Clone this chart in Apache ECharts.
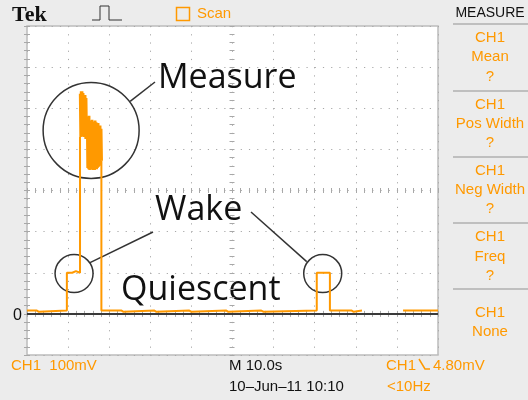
<!DOCTYPE html>
<html>
<head>
<meta charset="utf-8">
<script src="https://cdn.jsdelivr.net/npm/echarts@6/dist/echarts.min.js"></script>
<style>
html,body{margin:0;padding:0;background:#ececec;}
#chart{width:528px;height:400px;}
</style>
</head>
<body>
<div id="chart"></div>
<script>
// scope trace, time in s (10 s/div), CH1 in mV (100 mV/div)
var traceTime = [0, 2.4, 2.4, 2.9, 2.9, 9.7, 9.7, 11.0, 11.0, 11.9, 11.9, 12.9, 12.9, 15.0, 18.1, 18.1,
  23.0, 23.0, 23.5, 23.5, 31.0, 31.0, 31.5, 31.5, 39.5, 39.5, 40.0, 40.0, 48.5, 48.5, 49.0, 49.0,
  57.0, 57.0, 57.6, 57.6, 70.5, 70.5, 73.7, 73.7, 79.0, 79.0, 79.5, 79.5, 81.5, 86.0, 91.5, 100];
var traceMv = [8, 8, 5, 5, 8, 8, 100, 100, 104, 104, 100, 100, 430, null, 372, 8,
  8, 5, 5, 8, 8, 5, 5, 8, 8, 5, 5, 8, 8, 5, 5, 8,
  8, 5, 5, 8, 8, 100, 100, 8, 8, 5, 5, 8, 8, null, 8, 8];

// the burst during "Measure": upper and lower envelope
var spikeTime = [12.93, 13.17, 13.41, 13.66, 13.90, 14.15, 14.39, 14.63, 14.88, 15.12, 15.37,
  15.61, 15.85, 16.10, 16.34, 16.59, 16.83, 17.07, 17.32, 17.56, 17.80, 18.05];
var spikeHigh = [535, 541, 541, 537, 530, 532, 525, 480, 478, 482, 470,
  465, 472, 468, 463, 470, 466, 460, 464, 455, 458, 450];
var spikeLow = [430, 432, 435, 430, 440, 425, 436, 355, 352, 350, 355,
  352, 350, 354, 350, 356, 352, 355, 358, 360, 365, 372];

var ORANGE = '#ff9900';
var GRID_C = '#a8a8a8';

var traceData = traceTime.map(function (t, i) { return [t, traceMv[i]]; });
var spikeData = [];
spikeTime.forEach(function (t, i) {
  spikeData.push([t, spikeHigh[i]]);
  spikeData.push([t + 0.12, spikeLow[i]]);
});

var chart = echarts.init(document.getElementById('chart'));

var tick = {show: true, inside: true, length: 3, lineStyle: {color: GRID_C}};
var minor = {show: true, splitNumber: 5, length: 3, lineStyle: {color: GRID_C}};
var tickC = {show: true, inside: true, length: 5, lineStyle: {color: GRID_C}};
var minorC = {show: true, splitNumber: 5, length: 5, lineStyle: {color: GRID_C}};

function xAx(extra) {
  return Object.assign({type: 'value', min: 0, max: 100, interval: 10,
    axisLine: {show: false}, axisLabel: {show: false}, splitLine: {show: false}}, extra);
}
function yAx(extra) {
  return Object.assign({type: 'value', min: -100, max: 700, interval: 100,
    axisLine: {show: false}, axisLabel: {show: false}, splitLine: {show: false}}, extra);
}

var option = {
  animation: false,
  backgroundColor: '#ececec',
  grid: {show: true, left: 27, top: 26, width: 411, height: 329,
    backgroundColor: '#ffffff', borderColor: '#bcbcbc', borderWidth: 1.5},
  xAxis: [
    xAx({position: 'bottom', axisTick: tick, minorTick: minor,
      splitLine: {show: true, lineStyle: {color: GRID_C, width: 1, type: [1.2, 7.02]}}}),
    xAx({position: 'top', axisTick: tick, minorTick: minor}),
    xAx({position: 'bottom', offset: -162, axisTick: tickC, minorTick: minorC})
  ],
  yAxis: [
    yAx({position: 'left', axisTick: tick, minorTick: minor,
      splitLine: {show: true, lineStyle: {color: GRID_C, width: 1, type: [1.2, 7.02]}}}),
    yAx({position: 'right', axisTick: tick, minorTick: minor}),
    yAx({position: 'left', offset: -202.5, axisTick: tickC, minorTick: minorC})
  ],
  series: [
    {
      type: 'line', data: traceData, showSymbol: false, connectNulls: false,
      lineStyle: {color: ORANGE, width: 2}, z: 3,
      markLine: {silent: true, symbol: 'none', label: {show: false},
        lineStyle: {color: '#3a3a3a', width: 2, type: 'solid'},
        data: [{yAxis: 0}]}
    },
    {
      type: 'line', data: spikeData, showSymbol: false,
      lineStyle: {color: ORANGE, width: 2.6}, z: 3
    }
  ]
};
chart.setOption(option);

function px(t, v) { return chart.convertToPixel({xAxisIndex: 0, yAxisIndex: 0}, [t, v]); }

function txt(s, x, y, o) {
  return {type: 'text', silent: true, style: Object.assign({text: s, x: x, y: y,
    fill: ORANGE, fontSize: 15, fontFamily: 'Liberation Sans',
    textAlign: 'left', textVerticalAlign: 'middle'}, o || {})};
}
function ln(x1, y1, x2, y2, c, w) {
  return {type: 'line', silent: true, shape: {x1: x1, y1: y1, x2: x2, y2: y2},
    style: {stroke: c, lineWidth: w}};
}
function ring(c, r) {
  return {type: 'circle', silent: true, shape: {cx: c[0], cy: c[1], r: r},
    style: {fill: null, stroke: '#333', lineWidth: 1.5}};
}

var cMeasure = px(15.6, 446);
var cWake1 = px(11.45, 98);
var cWake2 = px(71.95, 98);

var g = [];
// annotations
g.push(ring(cMeasure, 48), ring(cWake1, 19), ring(cWake2, 19));
g.push(ln(cMeasure[0] + 39, cMeasure[1] - 29, 155, 82, '#333', 1.5));
g.push(ln(cWake1[0] + 16, cWake1[1] - 11, 153, 232, '#333', 1.5));
g.push(ln(cWake2[0] - 16, cWake2[1] - 12, 251, 212, '#333', 1.5));
var big = {fill: '#111', fontSize: 34, fontFamily: 'Open Sans'};
g.push(txt('Measure', 158, 78, big));
g.push(txt('Wake', 155, 210, big));
g.push(txt('Quiescent', 121, 290, big));

// header
g.push(txt('Tek', 12, 15, {fill: '#111', fontSize: 22, fontWeight: 'bold', fontFamily: 'Liberation Serif'}));
g.push({type: 'polyline', silent: true,
  shape: {points: [[92, 20], [100, 20], [100, 6], [109, 6], [109, 20], [122, 20]]},
  style: {stroke: '#333', lineWidth: 1, fill: null}});
g.push({type: 'rect', silent: true, shape: {x: 176.5, y: 7.5, width: 13, height: 13},
  style: {fill: null, stroke: ORANGE, lineWidth: 1.5}});
g.push(txt('Scan', 197, 14));

// measure menu
g.push(txt('MEASURE', 490, 13, {fill: '#111', fontSize: 14, textAlign: 'center'}));
[24, 91, 157, 223, 289].forEach(function (y) { g.push(ln(453, y, 528, y, '#b0b0b0', 1.5)); });
var menu = [
  ['CH1', 38], ['Mean', 57], ['?', 77],
  ['CH1', 105], ['Pos Width', 124], ['?', 143],
  ['CH1', 171], ['Neg Width', 190], ['?', 209],
  ['CH1', 237], ['Freq', 257], ['?', 276],
  ['CH1', 313], ['None', 332]
];
menu.forEach(function (m) { g.push(txt(m[0], 490, m[1], {textAlign: 'center'})); });

// ground marker
g.push(txt('0', 13, 316, {fill: '#111', fontSize: 16}));

// footer
g.push(txt('CH1  100mV', 11, 366));
g.push(txt('M 10.0s', 229, 366, {fill: '#111'}));
g.push(txt('10\u2013Jun\u201311 10:10', 229, 387, {fill: '#111'}));
g.push(txt('CH1', 386, 366));
g.push({type: 'polyline', silent: true, shape: {points: [[419, 359], [425, 369], [430, 369]]},
  style: {stroke: ORANGE, lineWidth: 1.5, fill: null}});
g.push(txt('4.80mV', 433, 366));
g.push(txt('<10Hz', 387, 387));

chart.setOption({graphic: g});
</script>
</body>
</html>
